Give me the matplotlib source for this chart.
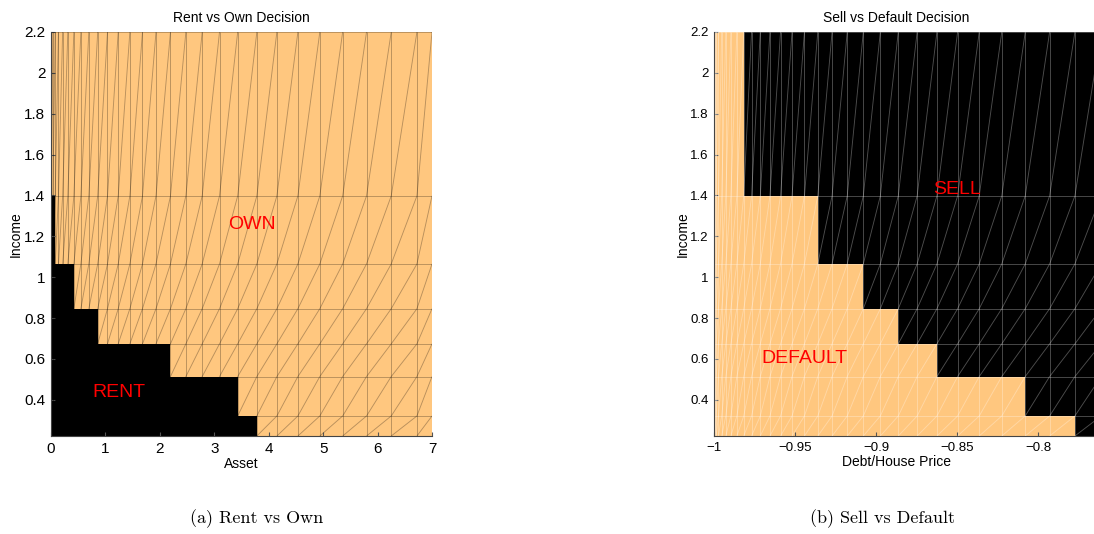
import numpy as np
import matplotlib.pyplot as plt
from matplotlib.colors import ListedColormap
from matplotlib.collections import LineCollection

# grids (node positions of the mesh)
asset = [0.0, 0.0086, 0.0343, 0.0772, 0.137, 0.214, 0.309, 0.420, 0.549, 0.695,
         0.858, 1.038, 1.235, 1.449, 1.681, 1.929, 2.195, 2.478, 2.778, 3.096,
         3.430, 3.782, 4.150, 4.536, 4.939, 5.359, 5.797, 6.251, 6.723, 7.0]
debt = [-1.0, -0.99972, -0.99886, -0.99744, -0.99546, -0.99290, -0.98978, -0.98609,
        -0.98183, -0.97700, -0.97161, -0.96565, -0.95911, -0.95202, -0.94435,
        -0.93612, -0.92731, -0.91794, -0.90801, -0.89750, -0.88643, -0.87478,
        -0.86257, -0.84980, -0.83645, -0.82254, -0.80805, -0.79300, -0.77739,
        -0.76120, -0.74445]
income = [0.223, 0.321, 0.514, 0.674, 0.846, 1.065, 1.398, 2.2]

# cells counted from the left in each income row
rent_cells = [21, 20, 16, 10, 7, 3, 0]        # black = RENT
default_cells = [28, 26, 22, 20, 18, 15, 8]   # orange = DEFAULT

plt.rcParams['font.family'] = ['Liberation Sans', 'DejaVu Sans']

cmap = ListedColormap(['black', '#ffc77f'])   # copper ends


def mesh_lines(ax, xs, ys, color, alpha):
    segs = []
    for x in xs:
        segs.append([(x, ys[0]), (x, ys[-1])])
    for y in ys:
        segs.append([(xs[0], y), (xs[-1], y)])
    for i in range(len(xs) - 1):
        for j in range(len(ys) - 1):
            segs.append([(xs[i], ys[j]), (xs[i + 1], ys[j + 1])])
    ax.add_collection(LineCollection(segs, colors=color, alpha=alpha, linewidths=0.65))


def style_axes(ax, size):
    for s in ['top', 'right']:
        ax.spines[s].set_visible(False)
    for s in ['left', 'bottom']:
        ax.spines[s].set_color('#444444')
    ax.tick_params(direction='in', length=3, color='#555555', labelsize=size, pad=4)
    ax.set_yticks([0.4, 0.6, 0.8, 1.0, 1.2, 1.4, 1.6, 1.8, 2.0, 2.2])
    ax.set_yticklabels(['0.4', '0.6', '0.8', '1', '1.2', '1.4', '1.6', '1.8', '2', '2.2'])


fig = plt.figure(figsize=(10.94, 5.34), dpi=100)

# 1. Rent vs Own
ax1 = fig.add_axes([51 / 1094, 98 / 534, 381 / 1094, 404 / 534])
own = np.ones((len(income) - 1, len(asset) - 1))
for j, n in enumerate(rent_cells):
    own[j, :n] = 0
ax1.pcolormesh(asset, income, own, cmap=cmap, vmin=0, vmax=1)
mesh_lines(ax1, asset, income, 'black', 0.28)
ax1.set_xlim(0, 7)
ax1.set_ylim(income[0], income[-1])
style_axes(ax1, 11)
ax1.set_xticks(range(8))
ax1.set_title('Rent vs Own Decision', fontsize=10, pad=7)
ax1.set_xlabel('Asset', fontsize=10, labelpad=1)
ax1.set_ylabel('Income', fontsize=10, labelpad=1)
ax1.text(3.70, 1.26, 'OWN', color='red', fontsize=14, ha='center', va='center')
ax1.text(1.24, 0.434, 'RENT', color='red', fontsize=14, ha='center', va='center')

# 2. Sell vs Default
ax2 = fig.add_axes([714.3 / 1094, 98 / 534, 379.7 / 1094, 404 / 534])
dec = np.zeros((len(income) - 1, len(debt) - 1))
for j, n in enumerate(default_cells):
    dec[j, :n] = 1
ax2.pcolormesh(debt, income, dec, cmap=cmap, vmin=0, vmax=1)
mesh_lines(ax2, debt, income, 'white', 0.3)
ax2.set_xlim(-1, -0.7656)
ax2.set_ylim(income[0], income[-1])
style_axes(ax2, 9.5)
ax2.set_xticks([-1, -0.95, -0.9, -0.85, -0.8])
ax2.set_xticklabels(['\u22121', '\u22120.95', '\u22120.9', '\u22120.85', '\u22120.8'])
ax2.set_title('Sell vs Default Decision', fontsize=10, pad=7, x=0.5 - 8 / 380)
ax2.set_xlabel('Debt/House Price', fontsize=10, labelpad=1, x=0.5 - 8 / 380)
ax2.set_ylabel('Income', fontsize=10, labelpad=0)
ax2.text(-0.850, 1.427, 'SELL', color='red', fontsize=14, ha='center', va='center')
ax2.text(-0.9443, 0.600, 'DEFAULT', color='red', fontsize=14, ha='center', va='center')

# captions
fig.text(257 / 1094, 1 - 519 / 534, '(a) Rent vs Own', family='cmr10', fontsize=13,
         ha='center', va='center')
fig.text(882 / 1094, 1 - 519 / 534, '(b) Sell vs Default', family='cmr10', fontsize=13,
         ha='center', va='center')

fig.savefig('out.png', dpi=100)
